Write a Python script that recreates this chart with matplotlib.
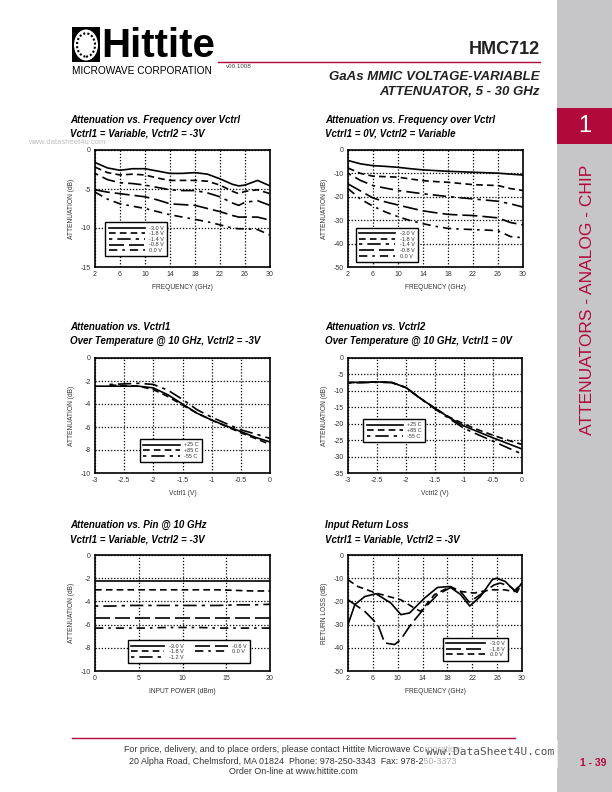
import numpy as np
import matplotlib
matplotlib.use("Agg")
import matplotlib.pyplot as plt
from matplotlib.patches import Rectangle, Circle

plt.rcParams['font.family'] = ['Liberation Sans', 'DejaVu Sans']

# ---------------- data ----------------
# Chart 1: Attenuation vs Frequency, Vctrl1 variable, Vctrl2=-3V
freq1 = [2, 4, 6, 8, 10, 12, 14, 16, 18, 20, 22, 24, 25, 26, 28, 30]
att1_m30 = [-1.6, -2.3, -2.6, -2.4, -2.4, -2.7, -3.0, -3.0, -2.9, -3.1, -3.7, -4.4, -4.6, -4.5, -3.9, -4.6]
att1_m18 = [-2.2, -2.9, -3.2, -3.1, -3.2, -3.6, -3.9, -3.9, -3.9, -4.0, -4.5, -5.3, -5.6, -5.3, -5.1, -5.6]
att1_m14 = [-3.0, -3.8, -4.2, -4.3, -4.5, -4.8, -5.1, -5.2, -5.2, -5.5, -6.0, -6.8, -7.1, -6.7, -6.5, -7.1]
att1_m08 = [-5.1, -5.4, -5.6, -5.8, -6.0, -6.4, -6.9, -7.0, -7.1, -7.5, -7.9, -8.4, -8.6, -8.6, -8.6, -9.0]
att1_0 = [-5.4, -6.3, -6.9, -7.2, -7.5, -7.9, -8.3, -8.6, -8.9, -9.2, -9.6, -10.0, -10.1, -10.1, -10.2, -10.9]

# Chart 2: Attenuation vs Frequency, Vctrl1=0V, Vctrl2 variable
freq2 = [2, 4, 6, 8, 10, 12, 14, 16, 18, 20, 22, 24, 26, 28, 30]
att2_m30 = [-4.5, -5.9, -6.7, -7.0, -7.4, -8.0, -8.5, -8.8, -9.1, -9.3, -9.5, -9.7, -9.9, -10.3, -10.7]
att2_m18 = [-7.7, -10.0, -11.2, -11.4, -11.6, -12.4, -13.1, -13.5, -13.8, -14.3, -14.8, -15.0, -15.2, -16.5, -17.3]
att2_m14 = [-10.0, -13.0, -15.2, -16.3, -17.3, -18.0, -18.7, -19.3, -19.9, -20.4, -20.9, -21.4, -21.9, -23.0, -24.4]
att2_m08 = [-14.5, -17.5, -20.5, -22.2, -23.5, -24.8, -26.0, -26.8, -27.5, -27.8, -28.0, -28.5, -29.0, -31.0, -32.0]
att2_0 = [-16.5, -21.0, -24.0, -26.5, -28.5, -30.2, -31.5, -32.6, -33.5, -33.8, -34.0, -34.2, -34.5, -37.0, -37.5]

vlabels5 = ["-3.0 V", "-1.8 V", "-1.4 V", "-0.8 V", "0.0 V"]

# Chart 3: Attenuation vs Vctrl1 over temperature
vctrl1 = [-3.0, -2.75, -2.5, -2.25, -2.0, -1.75, -1.5, -1.25, -1.0, -0.75, -0.5, -0.25, 0.0]
t1_p25 = [-2.45, -2.45, -2.45, -2.45, -2.6, -3.2, -4.0, -4.8, -5.4, -5.9, -6.4, -6.9, -7.3]
t1_p85 = [np.nan, -2.35, -2.4, -2.45, -2.75, -3.35, -4.1, -4.8, -5.4, -5.95, -6.5, -7.0, -7.5]
t1_m55 = [np.nan, -2.3, -2.25, -2.2, -2.3, -2.8, -3.6, -4.5, -5.15, -5.7, -6.25, -6.6, -7.0]

# Chart 4: Attenuation vs Vctrl2 over temperature
vctrl2 = [-3.0, -2.75, -2.5, -2.25, -2.0, -1.75, -1.5, -1.25, -1.0, -0.75, -0.5, -0.25, 0.0]
t2_p25 = [-7.4, -7.4, -7.3, -7.4, -9.0, -12.3, -15.3, -18.2, -20.7, -22.5, -24.3, -26.0, -27.7]
t2_p85 = [-7.5, -7.4, -7.3, -7.4, -9.0, -12.3, -15.3, -18.0, -20.1, -21.9, -23.5, -25.0, -26.3]
t2_m55 = [-7.6, -7.5, -7.4, -7.5, -9.0, -12.4, -15.5, -18.5, -21.4, -23.4, -25.3, -27.3, -29.2]

templabels = ["+25 C", "+85 C", "-55 C"]

# Chart 5: Attenuation vs Pin
pin = [0, 2, 4, 6, 8, 10, 12, 14, 16, 18, 20]
pin_m30 = [-2.25, -2.25, -2.25, -2.25, -2.25, -2.25, -2.25, -2.25, -2.25, -2.25, -2.25]
pin_m18 = [-3.0, -3.0, -3.0, -3.0, -3.0, -3.0, -3.0, -3.0, -3.05, -3.1, -3.1]
pin_m12 = [-4.4, -4.4, -4.35, -4.35, -4.35, -4.35, -4.35, -4.35, -4.3, -4.3, -4.25]
pin_m06 = [-5.45, -5.45, -5.45, -5.45, -5.45, -5.45, -5.45, -5.45, -5.45, -5.45, -5.45]
pin_0 = [-6.3, -6.3, -6.3, -6.3, -6.25, -6.25, -6.25, -6.3, -6.3, -6.3, -6.3]
pinlabels = ["-3.0 V", "-1.8 V", "-1.2 V", "-0.6 V", "0.0 V"]

# Chart 6: Input return loss
rl_f_m30 = [2, 3.1, 4.7, 6.5, 8.9, 10.5, 11.9, 14.3, 16.4, 18.3, 20.1, 21.6, 23.3, 25.2, 25.9, 27.3, 28.9, 30]
rl_m30 = [-30, -21.4, -17.9, -16.7, -20.7, -25.7, -25.0, -18.6, -14.0, -13.6, -17.0, -22.0, -17.9, -10.7, -10.0, -11.4, -15.7, -12.1]
rl_f_m18 = [2, 4.7, 6.8, 7.9, 9.5, 10.5, 12.1, 14.3, 16.4, 18.5, 20.1, 21.5, 23.3, 25.5, 26.5, 28.1, 29.2, 30]
rl_m18 = [-19.3, -24.3, -30.0, -37.9, -38.6, -36.4, -30.0, -22.9, -17.1, -14.0, -15.7, -20.3, -17.1, -12.9, -12.1, -13.6, -16.1, -12.1]
rl_f_0 = [2, 3.6, 6.5, 10.5, 12.7, 13.7, 15.9, 18.5, 20.1, 22.3, 24.9, 27.1, 28.7, 30]
rl_0 = [-10.7, -13.6, -16.4, -19.3, -22.9, -24.3, -17.1, -13.6, -15.7, -16.4, -15.0, -15.0, -15.7, -12.1]
rllabels = ["-3.0 V", "-1.8 V", "0.0 V"]

# ---------------- styles ----------------
LS_SOLID = '-'
LS_DASH = (0, (4, 2.5))
LS_DASHDOT_L = (0, (2, 3, 8, 3))
LS_LONGDASH = (0, (9, 3))
LS_DASHDOT = (0, (5, 3, 1.5, 3))
LW = 1.2
RED = '#b0093a'
W, H = 612, 792

fig = plt.figure(figsize=(W / 100, H / 100), dpi=100)


def fx(x):
    return x / W


def fy(y):
    return 1 - y / H


def add_ax(l, t, r, b):
    return fig.add_axes([fx(l), fy(b), (r - l) / W, (b - t) / H])


def style_ax(ax, xlim, ylim, xticks, yticks, xlabel, ylabel):
    ax.set_xlim(*xlim)
    ax.set_ylim(*ylim)
    ax.set_xticks(xticks)
    ax.set_yticks(yticks)
    ax.set_xticklabels([("%g" % v) for v in xticks])
    ax.set_yticklabels([("%g" % v) for v in yticks])
    ax.tick_params(length=0, labelsize=5, colors='#333333', pad=3)
    ax.grid(True, linestyle=(0, (1, 1.5)), color='black', linewidth=0.9)
    ax.set_axisbelow(True)
    for s in ax.spines.values():
        s.set_linewidth(1.2)
        s.set_color('black')
    ax.set_xlabel(xlabel, fontsize=4.8, color='#333333', labelpad=4)
    ax.set_ylabel(ylabel, fontsize=4.8, color='#333333', labelpad=4)


def legend(ax, anchor, ncol=1, hl=6.5):
    lg = ax.legend(loc='lower left', bbox_to_anchor=anchor, ncol=ncol, fontsize=4.0,
                   handlelength=hl, labelspacing=0.1, borderpad=0.6, handletextpad=0.8,
                   columnspacing=2.0, frameon=True, fancybox=False, framealpha=1,
                   edgecolor='black')
    lg.get_frame().set_linewidth(1.0)
    for t in lg.get_texts():
        t.set_color('#333333')
    return lg


def titles(x, y, l1, l2):
    fig.text(fx(x), fy(y), l1, fontsize=7, fontweight='bold', fontstyle='italic', va='center')
    fig.text(fx(x), fy(y + 14), l2, fontsize=7, fontweight='bold', fontstyle='italic', va='center')


styles5 = [LS_SOLID, LS_DASH, LS_DASHDOT_L, LS_LONGDASH, LS_DASHDOT]

# Chart 1
ax1 = add_ax(95, 150, 270, 267)
for yv, ls, lab in zip([att1_m30, att1_m18, att1_m14, att1_m08, att1_0], styles5, vlabels5):
    ax1.plot(freq1, yv, color='black', lw=LW, linestyle=ls, label=lab)
style_ax(ax1, (2, 30), (-15, 0), list(range(2, 31, 4)), [0, -5, -10, -15], 'FREQUENCY (GHz)', 'ATTENUATION (dB)')
legend(ax1, (0.043, 0.067))
titles(70, 120, 'Attenuation vs. Frequency over Vctrl', 'Vctrl1 = Variable, Vctrl2 = -3V')

# Chart 2
ax2 = add_ax(348, 150, 523, 267)
for yv, ls, lab in zip([att2_m30, att2_m18, att2_m14, att2_m08, att2_0], styles5, vlabels5):
    ax2.plot(freq2, yv, color='black', lw=LW, linestyle=ls, label=lab)
style_ax(ax2, (2, 30), (-50, 0), list(range(2, 31, 4)), [0, -10, -20, -30, -40, -50], 'FREQUENCY (GHz)', 'ATTENUATION (dB)')
legend(ax2, (0.029, 0.02))
titles(325, 120, 'Attenuation vs. Frequency over Vctrl', 'Vctrl1 = 0V, Vctrl2 = Variable')

# Chart 3
ax3 = add_ax(95, 358, 270, 473)
for yv, ls, lab in zip([t1_p25, t1_p85, t1_m55], [LS_SOLID, LS_DASH, LS_DASHDOT_L], templabels):
    ax3.plot(vctrl1, yv, color='black', lw=LW, linestyle=ls, label=lab)
style_ax(ax3, (-3, 0), (-10, 0), [-3, -2.5, -2, -1.5, -1, -0.5, 0], [0, -2, -4, -6, -8, -10], 'Vctrl1 (V)', 'ATTENUATION (dB)')
legend(ax3, (0.242, 0.072))
titles(70, 327, 'Attenuation vs. Vctrl1', 'Over Temperature @ 10 GHz, Vctrl2 = -3V')

# Chart 4
ax4 = add_ax(348, 358, 522, 473)
for yv, ls, lab in zip([t2_p25, t2_p85, t2_m55], [LS_SOLID, LS_DASH, LS_DASHDOT_L], templabels):
    ax4.plot(vctrl2, yv, color='black', lw=LW, linestyle=ls, label=lab)
style_ax(ax4, (-3, 0), (-35, 0), [-3, -2.5, -2, -1.5, -1, -0.5, 0], [0, -5, -10, -15, -20, -25, -30, -35], 'Vctrl2 (V)', 'ATTENUATION (dB)')
legend(ax4, (0.073, 0.246))
titles(325, 327, 'Attenuation vs. Vctrl2', 'Over Temperature @ 10 GHz, Vctrl1 = 0V')

# Chart 5
ax5 = add_ax(95, 555, 270, 671)
for yv, ls, lab in zip([pin_m30, pin_m18, pin_m12, pin_m06, pin_0], styles5, pinlabels):
    ax5.plot(pin, yv, color='black', lw=LW, linestyle=ls, label=lab)
style_ax(ax5, (0, 20), (-10, 0), [0, 5, 10, 15, 20], [0, -2, -4, -6, -8, -10], 'INPUT POWER (dBm)', 'ATTENUATION (dB)')
legend(ax5, (0.17, 0.043), ncol=2, hl=6.0)
titles(70, 525, 'Attenuation vs. Pin @ 10 GHz', 'Vctrl1 = Variable, Vctrl2 = -3V')

# Chart 6
ax6 = add_ax(348, 555, 522, 671)
ax6.plot(rl_f_m30, rl_m30, color='black', lw=LW, linestyle=LS_SOLID, label=rllabels[0])
ax6.plot(rl_f_m18, rl_m18, color='black', lw=LW, linestyle=LS_LONGDASH, label=rllabels[1])
ax6.plot(rl_f_0, rl_0, color='black', lw=LW, linestyle=LS_DASH, label=rllabels[2])
style_ax(ax6, (2, 30), (-50, 0), list(range(2, 31, 4)), [0, -10, -20, -30, -40, -50], 'FREQUENCY (GHz)', 'RETURN LOSS (dB)')
legend(ax6, (0.53, 0.066), hl=7.0)
titles(325, 525, 'Input Return Loss', 'Vctrl1 = Variable, Vctrl2 = -3V')

# ---------------- page decorations ----------------
# right gray bar
fig.patches.append(Rectangle((fx(557), 0), (W - 557) / W, 1, transform=fig.transFigure,
                             facecolor='#c6c6c8', edgecolor='none', zorder=0))
fig.patches.append(Rectangle((fx(557), fy(144)), (W - 557) / W, 36 / H, transform=fig.transFigure,
                             facecolor=RED, edgecolor='none', zorder=1))
fig.text(fx(585), fy(126), '1', fontsize=17, color='white', ha='center', va='center')
fig.text(fx(587), fy(300), 'ATTENUATORS - ANALOG - CHIP', fontsize=12.5, color=RED,
         rotation=90, ha='center', va='center')

# header logo
fig.patches.append(Rectangle((fx(72), fy(62)), 28 / W, 35 / H, transform=fig.transFigure,
                             facecolor='black', edgecolor='none'))
fig.patches.append(Circle((fx(86), fy(45)), 12 / W, transform=fig.transFigure,
                          facecolor='white', edgecolor='none'))
fig.patches.append(Circle((fx(86), fy(45)), 9 / W, transform=fig.transFigure,
                          facecolor='none', edgecolor='black', lw=1.5, linestyle=(0, (1, 1))))
fig.text(fx(101), fy(65), 'Hittite', fontsize=29, fontweight='bold', ha='left', va='bottom')
fig.text(fx(72), fy(65.5), 'MICROWAVE CORPORATION', fontsize=7.3, ha='left', va='top')
fig.text(fx(226), fy(67), 'v00.1008', fontsize=4.5, color='#444444', ha='left', va='center')
fig.lines.append(plt.Line2D([fx(218), fx(540)], [fy(62), fy(62)], transform=fig.transFigure,
                            color=RED, lw=1.0))
fig.text(fx(540), fy(50), 'HMC712', fontsize=13, fontweight='bold', color='#222222', ha='right', va='center')
fig.text(fx(540), fy(77), 'GaAs MMIC VOLTAGE-VARIABLE', fontsize=9.5, fontweight='bold',
         fontstyle='italic', color='#222222', ha='right', va='center')
fig.text(fx(540), fy(92), 'ATTENUATOR, 5 - 30 GHz', fontsize=9.5, fontweight='bold',
         fontstyle='italic', color='#222222', ha='right', va='center')

# watermark near chart 1
fig.text(fx(28), fy(143), 'www.datasheet4u.com', fontsize=5.5, color='#c0c0c0', ha='left', va='center')

# footer
fig.lines.append(plt.Line2D([fx(72), fx(515)], [fy(738), fy(738)], transform=fig.transFigure,
                            color=RED, lw=1.0))
fig.text(fx(293), fy(750), 'For price, delivery, and to place orders, please contact Hittite Microwave Corporation:',
         fontsize=6.4, color='#333333', ha='center', va='center')
fig.text(fx(293), fy(761), '20 Alpha Road, Chelmsford, MA 01824  Phone: 978-250-3343  Fax: 978-250-3373',
         fontsize=6.4, color='#333333', ha='center', va='center')
fig.text(fx(293), fy(772), 'Order On-line at www.hittite.com',
         fontsize=6.4, color='#333333', ha='center', va='center')
fig.patches.append(Rectangle((fx(423), fy(768)), 135 / W, 28 / H, transform=fig.transFigure,
                             facecolor='white', alpha=0.6, edgecolor='none', zorder=5))
fig.text(fx(490), fy(752), 'www.DataSheet4U.com', fontsize=8, family='DejaVu Sans Mono',
         color='#555555', ha='center', va='center', zorder=6)
fig.text(fx(593), fy(763), '1 - 39', fontsize=7.5, fontweight='bold', color=RED, ha='center', va='center')

fig.savefig('out.png', dpi=100)
